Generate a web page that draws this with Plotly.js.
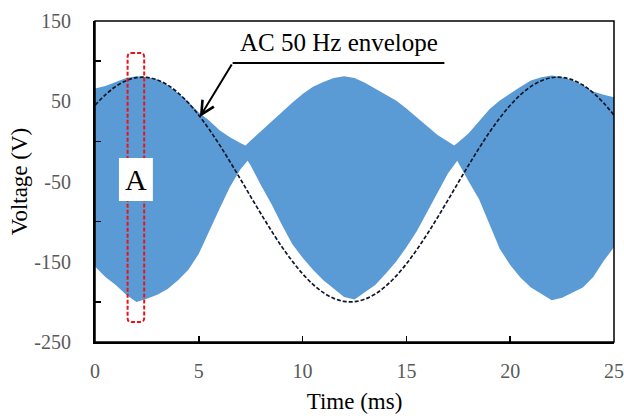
<!DOCTYPE html>
<html>
<head>
<meta charset="utf-8">
<script src="https://cdn.plot.ly/plotly-3.0.1.min.js"></script>
<style>html,body{margin:0;padding:0;background:#fff;}#chart{width:624px;height:416px;}</style>
</head>
<body>
<div id="chart"></div>
<script>
// Upper edge of the high-frequency signal band (time ms, voltage V)
const upperTime = [0,0.5,1,1.5,2,2.5,3,3.5,4,4.5,5,5.5,6,6.5,7,7.25,7.5,8,8.5,9,9.5,10,10.5,11,11.5,12,12.5,13,13.5,14,14.5,15,15.5,16,16.5,17,17.3,17.5,18,18.5,19,19.5,20,20.5,21,21.5,22,22.5,23,23.5,24,24.5,25];
const upperVolt = [66,69,74,79,81,80,77,70,60,49,36,26,14,5,-2,-5,1,13,25,37,48,59,68,74,79,81,79,73,66,59,51,41,30,20,8,0,-5,-1,10,25,40,51,60,68,76,80,82,80,76,70,62,58,55];
// Lower edge of the band
const lowerTime = [0,0.5,1,1.5,2,2.5,3,3.5,4,4.5,5,5.5,6,6.5,7,7.35,7.5,8,8.5,9,9.5,10,10.5,11,11.5,12,12.5,13,13.5,14,14.5,15,15.5,16,16.5,17,17.45,18,18.5,19,19.5,20,20.5,21,21.5,22,22.5,23,23.5,24,24.5,25];
const lowerVolt = [-156,-169,-179,-191,-200,-196,-191,-184,-173,-160,-140,-112,-84,-57,-35,-24,-30,-55,-78,-104,-128,-145,-160,-173,-184,-194,-197,-188,-179,-165,-150,-132,-112,-88,-64,-40,-24,-50,-72,-103,-134,-154,-170,-182,-190,-198,-195,-189,-182,-169,-149,-132];
// AC 50 Hz envelope (dashed)
const envTime = [0,0.5,1,1.5,2,2.5,3,3.5,4,4.5,5,5.5,6,6.5,7,7.5,8,8.5,9,9.5,10,10.5,11,11.5,12,12.5,13,13.5,14,14.5,15,15.5,16,16.5,17,17.5,18,18.5,19,19.5,20,20.5,21,21.5,22,22.5,23,23.5,24,24.5,25];
const envVolt = [45,58,68.5,75.6,79.4,79.7,76.6,70.2,60.5,47.9,32.6,15,-4.4,-25.2,-46.8,-68.8,-90.5,-111.5,-131.3,-149.2,-165,-178.2,-188.5,-195.6,-199.4,-199.7,-196.6,-190.2,-180.5,-167.9,-152.6,-135,-115.6,-94.8,-73.2,-51.2,-29.5,-8.5,11.3,29.2,45,58.2,68.5,75.6,79.4,79.7,76.6,70.2,60.5,47.9,32.6];
// Axis ticks and labels
const xTicks = [0,5,10,15,20,25];
const yLabelVals = [150,50,-50,-150,-250];
const yMinorVals = [100,0,-100,-200];
const envLabel = "AC 50 Hz envelope";
const boxLabel = "A";

const bandX = upperTime.concat(lowerTime.slice().reverse());
const bandY = upperVolt.concat(lowerVolt.slice().reverse());

const serif = "Liberation Serif, Times New Roman, serif";

const traces = [
  {x: bandX, y: bandY, type: "scatter", mode: "lines", fill: "toself",
   fillcolor: "#5B9BD5", line: {width: 0, color: "#5B9BD5"}, hoverinfo: "skip", showlegend: false},
  {x: envTime, y: envVolt, type: "scatter", mode: "lines", line: {shape: "spline", color: "#0f1728", width: 1.7, dash: "4px,2px"}, showlegend: false}
];

// red rounded dashed box (data coords)
const bx0 = 1.57, bx1 = 2.37, by0 = -225, by1 = 110, rx = 0.17, ry = 5;
const redPath = `M ${bx0+rx},${by1} L ${bx1-rx},${by1} Q ${bx1},${by1} ${bx1},${by1-ry} L ${bx1},${by0+ry} Q ${bx1},${by0} ${bx1-rx},${by0} L ${bx0+rx},${by0} Q ${bx0},${by0} ${bx0},${by0+ry} L ${bx0},${by1-ry} Q ${bx0},${by1} ${bx0+rx},${by1} Z`;

const layout = {
  width: 624, height: 416,
  margin: {l: 95, r: 10, t: 21, b: 74},
  paper_bgcolor: "white", plot_bgcolor: "white",
  showlegend: false,
  xaxis: {
    range: [0, 25], tickmode: "array", tickvals: xTicks, ticktext: xTicks.map(String),
    ticks: "inside", ticklen: 6, tickwidth: 1.5, tickcolor: "black",
    showline: true, linecolor: "black", linewidth: 2, showgrid: false, zeroline: false,
    tickfont: {family: serif, size: 20, color: "#595959"}, ticklabelstandoff: 10,
    title: {text: "Time (ms)", font: {family: serif, size: 23, color: "black"}, standoff: 12}
  },
  yaxis: {
    range: [-250, 150], tickmode: "array", tickvals: yLabelVals, ticktext: yLabelVals.map(String),
    ticks: "", showline: true, linecolor: "black", linewidth: 2, showgrid: false, zeroline: false,
    tickfont: {family: serif, size: 20, color: "#595959"}, ticklabelstandoff: 18,
    minor: {tickmode: "array", tickvals: yMinorVals, ticks: "inside", ticklen: 6, tickwidth: 1.5, tickcolor: "black", showgrid: false},
    title: {text: "Voltage (V)", font: {family: serif, size: 23, color: "black"}, standoff: 0}
  },
  shapes: [
    {type: "rect", xref: "paper", yref: "paper", x0: 0, x1: 1, y0: 0, y1: 1, line: {color: "black", width: 1.5}, layer: "above"},
    {type: "path", path: redPath, xref: "x", yref: "y", line: {color: "#E8141B", width: 2, dash: "4px,2px"}, layer: "above"},
    {type: "rect", xref: "x", yref: "y", x0: 1.154, x1: 2.788, y0: -74.3, y1: -20.7, fillcolor: "white", line: {width: 0}, layer: "above"},
    {type: "line", xref: "x", yref: "y", x0: 6.63, x1: 16.83, y0: 97.7, y1: 97.7, line: {color: "black", width: 2}, layer: "above"}
  ],
  annotations: [
    {x: 11.73, y: 122.6, xref: "x", yref: "y", text: envLabel, showarrow: false,
     xanchor: "center", yanchor: "middle", font: {family: serif, size: 25, color: "black"}},
    {x: 5.05, y: 30.4, ax: 6.63, ay: 97.7, axref: "x", ayref: "y", xref: "x", yref: "y", text: "",
     showarrow: true, arrowhead: 5, arrowsize: 1.3, arrowwidth: 2, arrowcolor: "black"},
    {x: 1.97, y: -48, xref: "x", yref: "y", text: boxLabel, showarrow: false,
     xanchor: "center", yanchor: "middle", font: {family: serif, size: 30, color: "black"}}
  ]
};

Plotly.newPlot("chart", traces, layout, {staticPlot: true, displayModeBar: false});
</script>
</body>
</html>
